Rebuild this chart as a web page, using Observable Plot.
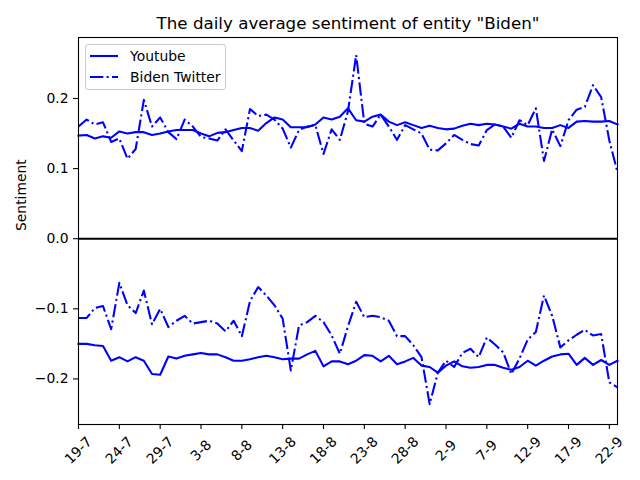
<!DOCTYPE html>
<html>
<head>
<meta charset="utf-8">
<script src="https://cdn.jsdelivr.net/npm/d3@7"></script>
<script src="https://cdn.jsdelivr.net/npm/@observablehq/plot@0.6"></script>
<style>
  body { margin: 0; background: #fff; }
  #wrap { position: relative; width: 640px; height: 480px; font-family: "DejaVu Sans", sans-serif; }
  #legend { position: absolute; left: 85px; top: 44px; width: 141px; height: 46px; box-sizing: border-box;
            border: 1px solid #cccccc; border-radius: 3px; background: rgba(255,255,255,0.8);
            font-size: 13.9px; color: #000; }
  #legend .row { position: absolute; left: 3px; height: 16px; display: flex; align-items: center; white-space: nowrap; }
  #legend svg { display: block; margin-right: 11px; }
</style>
</head>
<body>
<div id="wrap">
  <div id="chart"></div>
  <div id="legend"></div>
</div>
<script>
// ---- data ----
const startDate = "2020-07-19";
const endDate = "2020-09-23";
const seriesNames = ["Youtube", "Biden Twitter"];
const tickLabels = ["19-7","24-7","29-7","3-8","8-8","13-8","18-8","23-8","28-8","2-9","7-9","12-9","17-9","22-9"];
const yTicks = [-0.2, -0.1, 0.0, 0.1, 0.2];
const titleText = 'The daily average sentiment of entity "Biden"';
const yLabel = "Sentiment";

const youtubePos = [0.147,0.148,0.143,0.146,0.144,0.153,0.150,0.152,0.152,0.148,0.150,0.153,0.155,0.155,0.155,0.150,0.146,0.151,0.152,0.155,
  0.158,0.158,0.154,0.165,0.173,0.170,0.159,0.159,0.159,0.163,0.173,0.170,0.174,0.186,0.169,0.167,0.174,0.177,0.167,0.162,
  0.166,0.162,0.158,0.161,0.158,0.156,0.157,0.161,0.164,0.162,0.164,0.163,0.160,0.157,0.164,0.160,0.160,0.158,0.158,0.162,
  0.158,0.167,0.168,0.167,0.167,0.168,0.163];
const twitterPos = [0.160,0.170,0.163,0.166,0.138,0.143,0.114,0.128,0.198,0.160,0.173,0.152,0.142,0.170,0.160,0.145,0.143,0.140,0.156,0.140,
  0.125,0.185,0.175,0.177,0.170,0.157,0.130,0.155,0.160,0.162,0.121,0.156,0.141,0.182,0.262,0.164,0.160,0.177,0.160,0.141,
  0.162,0.156,0.150,0.127,0.126,0.136,0.148,0.141,0.135,0.133,0.155,0.163,0.160,0.144,0.169,0.162,0.186,0.111,0.156,0.132,
  0.169,0.184,0.188,0.219,0.202,0.140,0.095];
const youtubeNeg = [-0.150,-0.150,-0.152,-0.153,-0.174,-0.169,-0.175,-0.169,-0.174,-0.193,-0.194,-0.168,-0.171,-0.167,-0.165,-0.163,-0.165,-0.165,-0.169,-0.174,
  -0.174,-0.172,-0.169,-0.167,-0.169,-0.172,-0.171,-0.171,-0.165,-0.160,-0.182,-0.175,-0.175,-0.179,-0.174,-0.166,-0.167,-0.175,-0.167,-0.179,
  -0.175,-0.170,-0.181,-0.183,-0.191,-0.181,-0.175,-0.182,-0.184,-0.183,-0.180,-0.180,-0.184,-0.187,-0.183,-0.174,-0.181,-0.174,-0.168,-0.165,
  -0.164,-0.180,-0.170,-0.180,-0.173,-0.180,-0.174];
const twitterNeg = [-0.113,-0.113,-0.099,-0.096,-0.129,-0.063,-0.095,-0.106,-0.074,-0.122,-0.100,-0.126,-0.117,-0.110,-0.121,-0.119,-0.117,-0.121,-0.132,-0.117,
  -0.139,-0.089,-0.069,-0.081,-0.095,-0.114,-0.188,-0.124,-0.119,-0.110,-0.119,-0.138,-0.164,-0.125,-0.090,-0.112,-0.110,-0.112,-0.117,-0.139,
  -0.139,-0.152,-0.169,-0.236,-0.191,-0.174,-0.183,-0.163,-0.157,-0.169,-0.141,-0.151,-0.162,-0.193,-0.171,-0.144,-0.133,-0.081,-0.110,-0.155,
  -0.145,-0.137,-0.130,-0.138,-0.136,-0.205,-0.212];

// ---- build ----
const days = d3.utcDays(new Date(startDate), d3.utcDay.offset(new Date(endDate), 1));
const parseTick = d3.utcParse("%d-%m-%Y");
const tickDates = tickLabels.map(s => parseTick(s + "-2020"));

const blue = "#0000ff";
const lw = 2.08;
const dashDot = "13.3,3.3,2.1,3.3";

const solid = arr => Plot.line(arr, {x: (d, i) => days[i], y: d => d, stroke: blue, strokeWidth: lw, strokeLinejoin: "round", strokeLinecap: "square"});
const dashed = arr => Plot.line(arr, {x: (d, i) => days[i], y: d => d, stroke: blue, strokeWidth: lw, strokeLinejoin: "round", strokeLinecap: "butt", strokeDasharray: dashDot});

const chart = Plot.plot({
  width: 640,
  height: 480,
  marginLeft: 78,
  marginRight: 23,
  marginTop: 37,
  marginBottom: 56,
  style: {fontFamily: "DejaVu Sans, sans-serif", fontSize: "13.9px", background: "white", color: "black", overflow: "visible"},
  x: {type: "utc", domain: [days[0], days[days.length - 1]]},
  y: {domain: [-0.265, 0.287]},
  marks: [
    solid(youtubePos),
    dashed(twitterPos),
    solid(youtubeNeg),
    dashed(twitterNeg),
    Plot.ruleY([0], {stroke: "black", strokeWidth: 2.08}),
    Plot.axisY({ticks: yTicks, tickFormat: d3.format(".1f"), tickSize: 5, tickPadding: 5, label: null, stroke: "black", strokeWidth: 1.1, fill: "black"}),
    Plot.axisX({ticks: tickDates, tickFormat: () => "", tickSize: 5, label: null, stroke: "black", strokeWidth: 1.1}),
    Plot.text(tickDates, {x: d => d, text: (d, i) => tickLabels[i], frameAnchor: "bottom", lineAnchor: "middle", dy: 26, rotate: -45, textAnchor: "middle", fill: "black"}),
    Plot.text([titleText], {text: d => d, frameAnchor: "top", lineAnchor: "middle", dy: -13.5, fontSize: 16.7, fill: "black"}),
    Plot.text([yLabel], {text: d => d, frameAnchor: "left", lineAnchor: "middle", dx: -57, rotate: -90, fill: "black"}),
    Plot.frame({stroke: "black", strokeWidth: 1.1})
  ]
});
document.getElementById("chart").appendChild(chart);

// ---- legend ----
const legend = document.getElementById("legend");
const styles = [null, dashDot];
seriesNames.forEach((name, i) => {
  const row = document.createElement("div");
  row.className = "row";
  row.style.top = (3 + i * 21) + "px";
  const dash = styles[i] ? `stroke-dasharray="${styles[i]}"` : "";
  row.innerHTML = `<svg width="30" height="16"><line x1="1" x2="29" y1="8" y2="8" stroke="${blue}" stroke-width="${lw}" ${dash}/></svg><span>${name}</span>`;
  legend.appendChild(row);
});
</script>
</body>
</html>
